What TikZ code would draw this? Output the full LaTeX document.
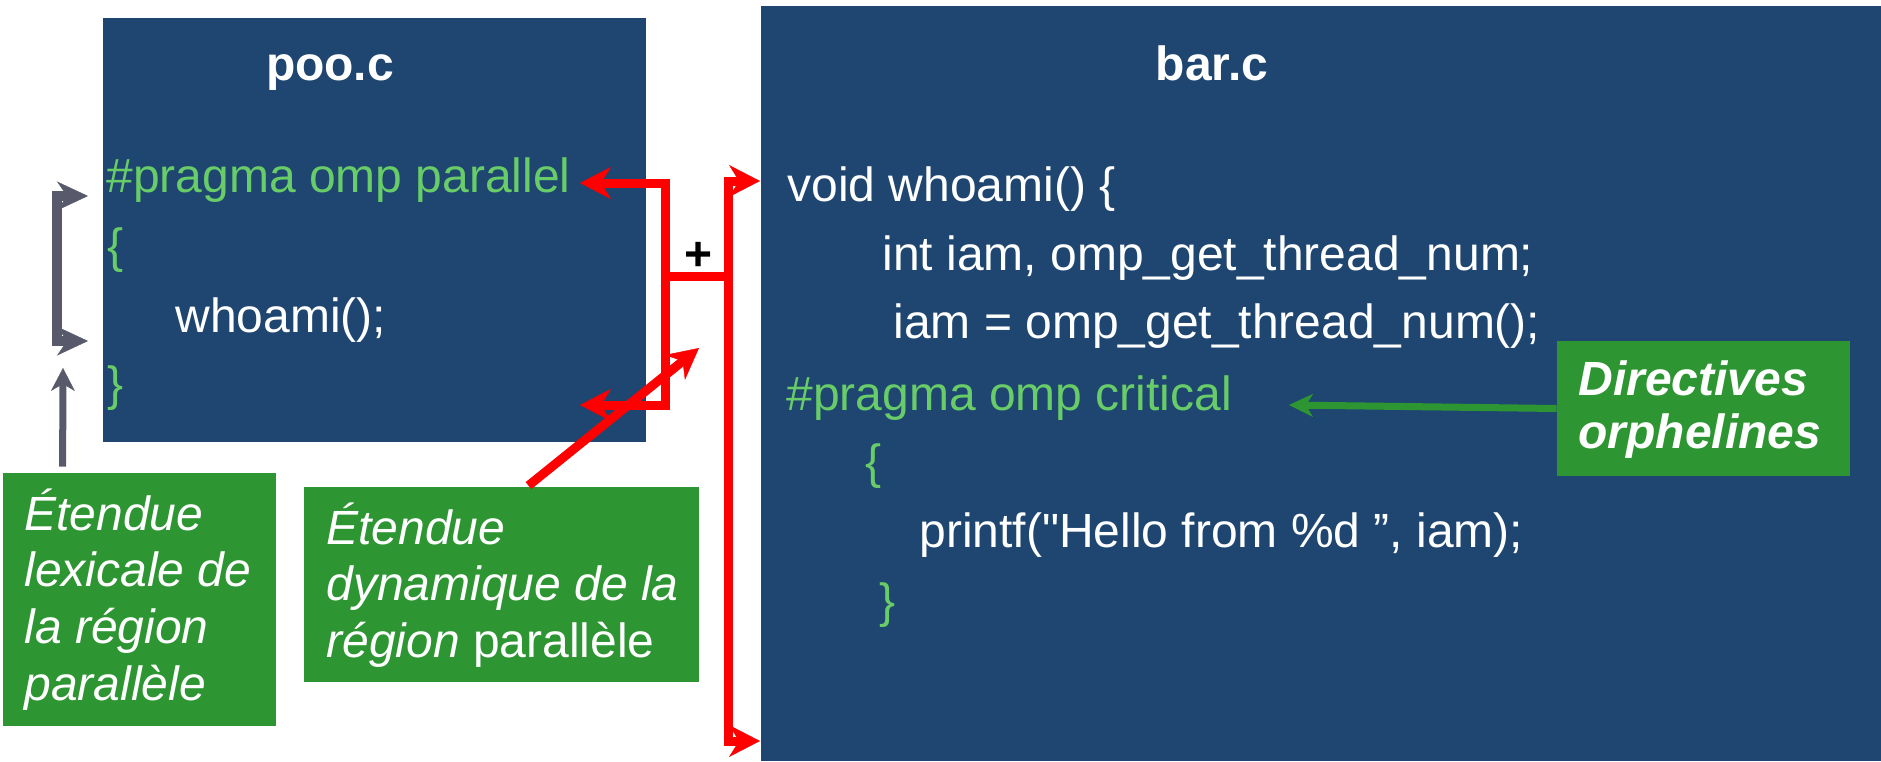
\documentclass[tikz,border=0pt]{standalone}
\usepackage{fontspec}
\setmainfont{Liberation Sans}
% same family without the TeX quote mapping, for a straight double quote
\newfontfamily\straightquotes{Liberation Sans}[Ligatures=Common]
\usetikzlibrary{arrows.meta,calc,fit}

\definecolor{fileblue}{RGB}{30,70,112}
\definecolor{codegreen}{RGB}{104,204,104}
\definecolor{notegreen}{RGB}{45,150,50}
\definecolor{linkgray}{RGB}{88,90,108}
\definecolor{linkred}{RGB}{255,0,0}

\begin{document}
\begin{tikzpicture}[x=0.5pt,y=-0.5pt,
  filebox/.style={fill=fileblue, draw=none, inner sep=0pt},
  notebox/.style={fill=notegreen, draw=none, inner sep=0pt},
  code/.style={inner sep=0pt, anchor=base west, text=white,
    font=\fontsize{24}{28.5}\selectfont},
  pragma/.style={code, text=codegreen},
  filetitle/.style={inner sep=0pt, anchor=base, text=white,
    font=\fontsize{24}{28.5}\selectfont\bfseries},
  note/.style={inner sep=0pt, anchor=base west, text=white,
    font=\fontsize{24}{28.35}\selectfont\itshape},
  redtip/.tip={Stealth[length=15.5pt,width=16pt,inset=5pt,line width=0.2pt]},
  graytip/.tip={Stealth[length=15.5pt,width=14.5pt,inset=5pt,line width=0.2pt]},
  smalltip/.tip={Stealth[length=11.5pt,width=12pt,inset=3.5pt,line width=0.2pt]},
  redline/.style={draw=linkred, line width=4.5pt, line join=miter},
  grayline/.style={draw=linkgray, line width=5pt, line join=miter},
]
\useasboundingbox (0,0) rectangle (1881,761);

% source files
\node[filebox, fit={(103,18) (646,442)}] (poo) {};
\node[filebox, fit={(761,6) (1881,761)}] (bar) {};

\node[filetitle] (pootitle) at (330,80) {poo.c};
\node[filetitle] (bartitle) at (1212,80) {bar.c};

% poo.c
\node[pragma] (par)   at (106,192) {\#pragma omp parallel};
\node[pragma] (popen) at (107,262) {\{};
\node[code]   (call)  at (175,332) {whoami();};
\node[pragma] (pclose) at (107,400) {\}};

% bar.c
\node[code]   (fdecl) at (787,201) {void whoami() \{};
\node[code]   (fvars) at (882,270) {int iam, omp\_get\_thread\_num;};
\node[code]   (fasgn) at (893,338) {iam = omp\_get\_thread\_num();};
\node[pragma] (crit)  at (786,410) {\#pragma omp critical};
\node[pragma] (copen) at (865,478) {\{};
\node[code]   (fprint) at (919,547) {printf({\straightquotes "}Hello from \%d ”, iam);};
\node[pragma] (cclose) at (879,617) {\}};

% notes
\node[notebox, fit={(3,473) (276,726)}] (lexbox) {};
\node[note] (lextxt) at (24,530)
  {\vtop{\hbox{Étendue}\hbox{lexicale de}\hbox{la région}\hbox{parallèle}}};

\node[notebox, fit={(304,487) (699,682)}] (dynbox) {};
\node[note] (dyntxt) at (326,544)
  {\vtop{\hbox{Étendue}\hbox{dynamique de la}\hbox{région\/\upshape{} parallèle}}};

\node[notebox, fit={(1557,341) (1850,476)}] (dirbox) {};
\node[note, font=\fontsize{24}{26.5}\selectfont\bfseries\itshape] (dirtxt) at (1578,395)
  {\vtop{\hbox{Directives}\hbox{orphelines}}};

% lexical extent bracket
\coordinate (gTopTip) at (88,196);
\coordinate (gTop)    at (57,196);
\coordinate (gBot)    at (57,341);
\coordinate (gBotTip) at (88,341);
\draw[grayline, {graytip}-{graytip}] (gTopTip) -- (gTop) -- (gBot) -- (gBotTip);
\coordinate (gUpTip) at (63,368);
\draw[draw=linkgray, line width=3.5pt, -{smalltip}]
  ($(lexbox.north west)+(60,-6)$) -- (gUpTip);

% dynamic extent brackets
\coordinate (parTip) at (580,183);
\coordinate (lbTop)  at (665,183);
\coordinate (lbMid)  at (665,276);
\coordinate (lbBot)  at (665,405);
\coordinate (endTip) at (580,405);
\coordinate (rbTop)  at (728,181);
\coordinate (rbMid)  at (728,276);
\coordinate (rbBot)  at (728,741);
\coordinate (voidTip) at (760,181);
\coordinate (botTip)  at (760,741);

\draw[redline, {redtip}-{redtip}] (parTip) -- (lbTop) -- (lbBot) -- (endTip);
\draw[redline] (lbMid) -- (rbMid);
\draw[redline, {redtip}-{redtip}] (voidTip) -- (rbTop) -- (rbBot) -- (botTip);
\node[inner sep=0pt, anchor=base, font=\fontsize{24}{28.5}\selectfont\bfseries] (plus)
  at (699,270) {+};

\coordinate (dynTip) at (699,348);
\draw[redline, -{redtip}] ($(dynbox.north)+(27,-1)$) -- (dynTip);

% orphaned directive pointer
\coordinate (critTip) at (1289,405);
\draw[draw=notegreen, line width=3.5pt, -{Stealth[length=12pt,width=11.5pt,inset=3.5pt,line width=0.2pt]}]
  (dirbox.west) -- (critTip);
\end{tikzpicture}
\end{document}
